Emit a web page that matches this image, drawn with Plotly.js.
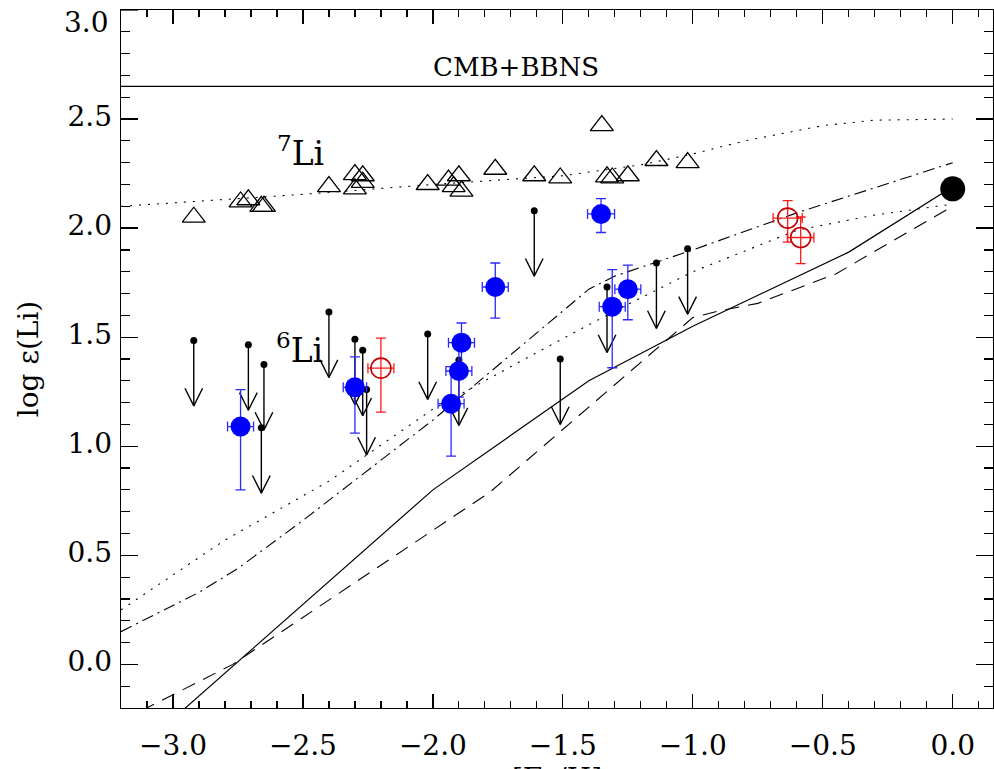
<!DOCTYPE html>
<html>
<head>
<meta charset="utf-8">
<script src="https://cdn.plot.ly/plotly-3.0.1.min.js"></script>
<style>
html,body{margin:0;padding:0;overflow:hidden;background:#fff}
#chart{width:994px;height:800px}
</style>
</head>
<body>
<div id="chart"></div>
<script>
// Primordial level from CMB + BBN
const cmbBbns = 2.65;

// 7Li measurements (open triangles)
const li7FeH = [-2.92,-2.74,-2.71,-2.66,-2.65,-2.40,-2.30,-2.30,-2.27,-2.27,-2.02,-1.94,-1.90,-1.92,-1.89,-1.76,-1.61,-1.51,-1.35,-1.33,-1.31,-1.25,-1.14,-1.02];
const li7Val = [2.05,2.12,2.13,2.10,2.10,2.19,2.245,2.18,2.24,2.21,2.20,2.22,2.24,2.19,2.17,2.27,2.24,2.23,2.47,2.235,2.23,2.24,2.31,2.30];

// 6Li detections (filled blue) with asymmetric errors
const li6FeH   = [-2.74,-2.30,-1.353,-1.76,-1.89,-1.90,-1.93,-1.31,-1.25];
const li6Val   = [1.09,1.27,2.065,1.73,1.475,1.345,1.195,1.64,1.72];
const li6ErrUp = [0.17,0.14,0.07,0.11,0.09,0.10,0.17,0.17,0.11];
const li6ErrDn = [0.29,0.21,0.085,0.143,0.11,0.12,0.24,0.28,0.14];
const li6ErrX  = [0.05,0.045,0.052,0.05,0.05,0.05,0.05,0.05,0.05];

// 6Li detections, second sample (open red)
const redFeH   = [-2.20,-0.635,-0.585];
const redVal   = [1.358,2.046,1.957];
const redErrUp = [0.138,0.08,0.094];
const redErrDn = [0.202,0.11,0.12];
const redErrX  = [0.05,0.056,0.051];

// 6Li upper limits
const limFeH = [-2.92,-2.71,-2.65,-2.66,-2.40,-2.30,-2.27,-2.255,-2.02,-1.90,-1.61,-1.51,-1.33,-1.14,-1.02];
const limVal = [1.485,1.465,1.375,1.085,1.615,1.49,1.44,1.26,1.515,1.395,2.08,1.40,1.73,1.84,1.905];

// Solar / meteoritic point
const sunFeH = [0.0];
const sunVal = [2.18];

// Galactic chemical evolution models
const gce7FeH = [-3.2,-3.0,-2.5,-2.0,-1.5,-1.2,-1.0,-0.8,-0.5,-0.3,0.0];
const gce7Li  = [2.10,2.115,2.155,2.20,2.24,2.29,2.34,2.40,2.47,2.495,2.50];
const dotFeH  = [-3.2,-2.8,-2.4,-2.0,-1.6,-1.3,-1.0,-0.6,-0.3,0.0];
const dotLi   = [0.25,0.57,0.84,1.17,1.43,1.62,1.80,1.99,2.06,2.11];
const ddFeH   = [-3.2,-3.05,-2.9,-2.75,-2.5,-2.0,-1.4,-1.3,-1.0,-0.6,0.0];
const ddLi    = [0.15,0.24,0.33,0.44,0.66,1.12,1.72,1.78,1.90,2.07,2.30];
const solFeH  = [-3.0,-2.0,-1.4,-1.0,-0.4,0.0];
const solLi   = [-0.25,0.80,1.30,1.55,1.89,2.19];
const dshFeH  = [-3.2,-2.77,-1.78,-1.0,-0.9,-0.75,-0.45,0.0];
const dshLi   = [-0.26,0.0,0.79,1.59,1.62,1.655,1.79,2.10];

// Y tick values and their labels
const yTicks = [0.0, 0.5, 1.0, 1.5, 2.0, 2.5];
const yTopLabel = 3.0;

const FONT = 'DejaVu Serif, Liberation Serif, serif';

// Upper-limit arrows: stem of fixed length in dex, open "V" head at the tip
const ARROW = 0.30, HEAD_W = 0.034, HEAD_H = 0.081;
const stemX = [], stemY = [];
limFeH.forEach((x, i) => {
  const top = limVal[i], tip = top - ARROW;
  stemX.push(x, x, null, x - HEAD_W, x, x + HEAD_W, null);
  stemY.push(top, tip, null, tip + HEAD_H, tip, tip + HEAD_H, null);
});

const traces = [
  {x: gce7FeH, y: gce7Li, mode: 'lines', line: {color: 'black', width: 1.1, dash: '2px,7px'}},
  {x: dotFeH, y: dotLi, mode: 'lines', line: {color: 'black', width: 1.1, dash: '2px,7px'}},
  {x: ddFeH, y: ddLi, mode: 'lines', line: {color: 'black', width: 1.1, dash: '12px,5px,2px,5px'}},
  {x: solFeH, y: solLi, mode: 'lines', line: {color: 'black', width: 1.2}},
  {x: dshFeH, y: dshLi, mode: 'lines', line: {color: 'black', width: 1.1, dash: '14px,9px'}},
  {x: li7FeH, y: li7Val, mode: 'markers',
   marker: {symbol: 'triangle-up-open', size: 20, color: 'black', line: {color: 'black', width: 1.3}}},
  {x: stemX, y: stemY, mode: 'lines', line: {color: 'black', width: 1.4}, connectgaps: false},
  {x: limFeH, y: limVal, mode: 'markers', marker: {symbol: 'circle', size: 7, color: 'black'}},
  {x: li6FeH, y: li6Val, mode: 'markers',
   marker: {symbol: 'circle', size: 20, color: '#0000ff'},
   error_y: {type: 'data', symmetric: false, array: li6ErrUp, arrayminus: li6ErrDn, color: '#2a2aff', thickness: 1.3, width: 5},
   error_x: {type: 'data', array: li6ErrX, color: '#2a2aff', thickness: 1.3, width: 5}},
  {x: redFeH, y: redVal, mode: 'markers',
   marker: {symbol: 'circle-open', size: 20, color: '#c40000', line: {color: '#c40000', width: 1.6}},
   error_y: {type: 'data', symmetric: false, array: redErrUp, arrayminus: redErrDn, color: '#ff1a1a', thickness: 1.3, width: 5},
   error_x: {type: 'data', array: redErrX, color: '#ff1a1a', thickness: 1.3, width: 5}},
  {x: sunFeH, y: sunVal, mode: 'markers', marker: {symbol: 'circle', size: 25, color: 'black'}, cliponaxis: false}
];

const axisCommon = {
  showline: true, linecolor: 'black', linewidth: 1.4, mirror: 'allticks',
  ticks: 'inside', tickcolor: 'black', tickwidth: 1.3,
  showgrid: false, zeroline: false, tickformat: '.1f',
  tickfont: {family: FONT, size: 28, color: 'black'}
};

const layout = {
  width: 994, height: 800,
  margin: {l: 121, r: 1, t: 10, b: 92},
  paper_bgcolor: 'white', plot_bgcolor: 'white',
  showlegend: false,
  xaxis: Object.assign({}, axisCommon, {
    range: [-3.2, 0.155], tick0: 0, dtick: 0.5, ticklen: 14,
    ticklabelstandoff: 12,
    minor: {dtick: 0.1, ticklen: 7, tickwidth: 1.2, tickcolor: 'black', ticks: 'inside'},
    title: {text: '[Fe/H]', font: {family: FONT, size: 28, color: 'black'}, standoff: 2}
  }),
  yaxis: Object.assign({}, axisCommon, {
    range: [-0.2, 3.0], tickmode: 'array', tickvals: yTicks, ticklen: 17,
    ticklabelshift: -3, ticklabelstandoff: 2,
    minor: {tickmode: 'linear', tick0: 0, dtick: 0.1, ticklen: 8.7, tickwidth: 1.2, tickcolor: 'black', ticks: 'inside'},
    title: {text: 'log \u03b5(Li)', font: {family: FONT, size: 28, color: 'black'}, standoff: 20}
  }),
  shapes: [
    {type: 'line', xref: 'paper', x0: 0, x1: 1, yref: 'y', y0: cmbBbns, y1: cmbBbns,
     line: {color: 'black', width: 1.4}},
    // major tick at the top of the y range
    {type: 'line', xref: 'paper', x0: 0, x1: 0.0195, yref: 'y', y0: yTopLabel, y1: yTopLabel,
     line: {color: 'black', width: 1.3}}
  ],
  annotations: [
    {text: yTopLabel.toFixed(1), x: 0, y: yTopLabel, xref: 'paper', yref: 'y',
     xanchor: 'right', yanchor: 'middle', xshift: -10, yshift: -12, showarrow: false,
     font: {family: FONT, size: 28, color: 'black'}},
    {text: 'CMB+BBNS', x: -1.68, y: 2.74, xref: 'x', yref: 'y', showarrow: false,
     font: {family: FONT, size: 26, color: 'black'}},
    {text: '<sup>7</sup>Li', x: -2.51, y: 2.35, xref: 'x', yref: 'y', showarrow: false,
     font: {family: FONT, size: 33, color: 'black'}},
    {text: '<sup>6</sup>Li', x: -2.515, y: 1.45, xref: 'x', yref: 'y', showarrow: false,
     font: {family: FONT, size: 33, color: 'black'}}
  ]
};

Plotly.newPlot('chart', traces, layout, {staticPlot: true, displayModeBar: false});
</script>
</body>
</html>
